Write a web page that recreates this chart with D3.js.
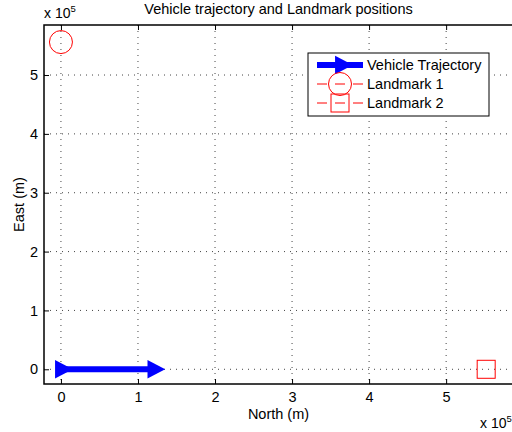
<!DOCTYPE html>
<html>
<head>
<meta charset="utf-8">
<script src="https://cdn.jsdelivr.net/npm/d3@7"></script>
<style>
  body { margin: 0; background: #fff; }
  svg { display: block; font-family: "Liberation Sans", Arial, Helvetica, sans-serif; }
</style>
</head>
<body>
<div id="chart"></div>
<script>
// data (metres)
const vehicleNorth = [0, 1.2e5];
const vehicleEast = [0, 0];
const landmark1 = { north: 0, east: 5.56e5 };
const landmark2 = { north: 5.52e5, east: 0 };
const xTicks = [0, 1e5, 2e5, 3e5, 4e5, 5e5];
const yTicks = [0, 1e5, 2e5, 3e5, 4e5, 5e5];
const legendLabels = ['Vehicle Trajectory', 'Landmark 1', 'Landmark 2'];

const width = 512, height = 432;
const axLeft = 44, axTop = 25, axRight = 517, axBottom = 384;
const fs = 14.5;

const x = d3.scaleLinear().domain([-0.22e5, 5.92e5]).range([axLeft, axRight]);
const y = d3.scaleLinear().domain([-0.25e5, 5.85e5]).range([axBottom, axTop]);

const svg = d3.select('#chart')
    .append('svg')
    .attr('width', width)
    .attr('height', height);

// dotted grid
svg.append('g')
    .selectAll('line')
    .data(xTicks)
    .join('line')
        .attr('x1', d => x(d)).attr('x2', d => x(d))
        .attr('y1', axTop).attr('y2', axBottom)
        .attr('stroke', '#444')
        .attr('stroke-width', 1)
        .attr('stroke-dasharray', '1,5');
svg.append('g')
    .selectAll('line')
    .data(yTicks)
    .join('line')
        .attr('x1', axLeft).attr('x2', axRight)
        .attr('y1', d => y(d)).attr('y2', d => y(d))
        .attr('stroke', '#444')
        .attr('stroke-width', 1)
        .attr('stroke-dasharray', '1,5');

// axes with inward ticks (matlab style)
const fmt = d => d3.format('d')(d / 1e5);
svg.append('g')
    .attr('transform', `translate(0,${axBottom})`)
    .call(d3.axisBottom(x).tickValues(xTicks).tickFormat(fmt).tickSizeInner(-5).tickSizeOuter(0).tickPadding(8))
    .call(g => g.select('.domain').remove())
    .call(g => g.selectAll('text').attr('font-size', fs).attr('fill', '#000'))
    .attr('font-family', null).attr('font-size', null);
svg.append('g')
    .attr('transform', `translate(0,${axTop})`)
    .call(d3.axisTop(x).tickValues(xTicks).tickFormat('').tickSizeInner(-5).tickSizeOuter(0))
    .call(g => g.select('.domain').remove());
svg.append('g')
    .attr('transform', `translate(${axLeft},0)`)
    .call(d3.axisLeft(y).tickValues(yTicks).tickFormat(fmt).tickSizeInner(-5).tickSizeOuter(0).tickPadding(6))
    .call(g => g.select('.domain').remove())
    .call(g => g.selectAll('text').attr('font-size', fs).attr('fill', '#000'))
    .attr('font-family', null).attr('font-size', null);

// box
svg.append('rect')
    .attr('x', axLeft).attr('y', axTop)
    .attr('width', axRight - axLeft).attr('height', axBottom - axTop)
    .attr('fill', 'none')
    .attr('stroke', '#000')
    .attr('stroke-width', 1.5);

// exponent labels
function expLabel(px, py) {
    const t = svg.append('text').attr('x', px).attr('y', py).attr('font-size', 14).attr('fill', '#000');
    t.append('tspan').text('x 10');
    t.append('tspan').attr('dy', -6).attr('font-size', 9.5).text('5');
}
expLabel(44, 18);
expLabel(480, 428);

// titles
svg.append('text')
    .attr('x', (axLeft + axRight) / 2 - 2).attr('y', 14)
    .attr('text-anchor', 'middle')
    .attr('font-size', fs)
    .text('Vehicle trajectory and Landmark positions');
svg.append('text')
    .attr('x', (axLeft + axRight) / 2 - 2).attr('y', 419)
    .attr('text-anchor', 'middle')
    .attr('font-size', fs)
    .text('North (m)');
svg.append('text')
    .attr('transform', `translate(24,${(axTop + axBottom) / 2}) rotate(-90)`)
    .attr('text-anchor', 'middle')
    .attr('font-size', fs)
    .text('East (m)');

const tri = d3.symbol().type(d3.symbolTriangle).size(150);

// vehicle trajectory
const traj = vehicleNorth.map((n, i) => [n, vehicleEast[i]]);
svg.append('path')
    .datum(traj)
    .attr('d', d3.line().x(d => x(d[0])).y(d => y(d[1])))
    .attr('stroke', '#0000ff')
    .attr('stroke-width', 6)
    .attr('fill', 'none');
svg.append('g')
    .selectAll('path')
    .data(traj)
    .join('path')
        .attr('d', tri)
        .attr('transform', d => `translate(${x(d[0])},${y(d[1])}) rotate(90) scale(1,1.1)`)
        .attr('fill', '#0000ff');

// landmarks
svg.append('circle')
    .attr('cx', x(landmark1.north)).attr('cy', y(landmark1.east))
    .attr('r', 11.5)
    .attr('fill', 'none').attr('stroke', '#ff0000').attr('stroke-width', 1);
svg.append('rect')
    .attr('x', x(landmark2.north) - 9).attr('y', y(landmark2.east) - 9)
    .attr('width', 18).attr('height', 18)
    .attr('fill', 'none').attr('stroke', '#ff0000').attr('stroke-width', 1);

// legend
const lg = svg.append('g').attr('transform', 'translate(308,53)');
lg.append('rect')
    .attr('width', 181).attr('height', 63)
    .attr('fill', '#fff').attr('stroke', '#000').attr('stroke-width', 1);
const rowY = [12, 31, 50];
lg.append('line')
    .attr('x1', 9).attr('x2', 55).attr('y1', rowY[0]).attr('y2', rowY[0])
    .attr('stroke', '#0000ff').attr('stroke-width', 6);
lg.append('path')
    .attr('d', tri)
    .attr('transform', `translate(33,${rowY[0]}) rotate(90) scale(1,1.1)`)
    .attr('fill', '#0000ff');
[1, 2].forEach(i => {
    lg.append('line')
        .attr('x1', 9).attr('x2', 55).attr('y1', rowY[i]).attr('y2', rowY[i])
        .attr('stroke', '#ff0000').attr('stroke-width', 1)
        .attr('stroke-dasharray', '10,8');
});
lg.append('circle')
    .attr('cx', 32).attr('cy', rowY[1]).attr('r', 11.5)
    .attr('fill', 'none').attr('stroke', '#ff0000');
lg.append('rect')
    .attr('x', 23).attr('y', rowY[2] - 9).attr('width', 18).attr('height', 18)
    .attr('fill', 'none').attr('stroke', '#ff0000');
lg.selectAll('text.label')
    .data(legendLabels)
    .join('text')
        .attr('class', 'label')
        .attr('x', 59)
        .attr('y', (d, i) => rowY[i] + 5)
        .attr('font-size', fs)
        .text(d => d);
</script>
</body>
</html>
